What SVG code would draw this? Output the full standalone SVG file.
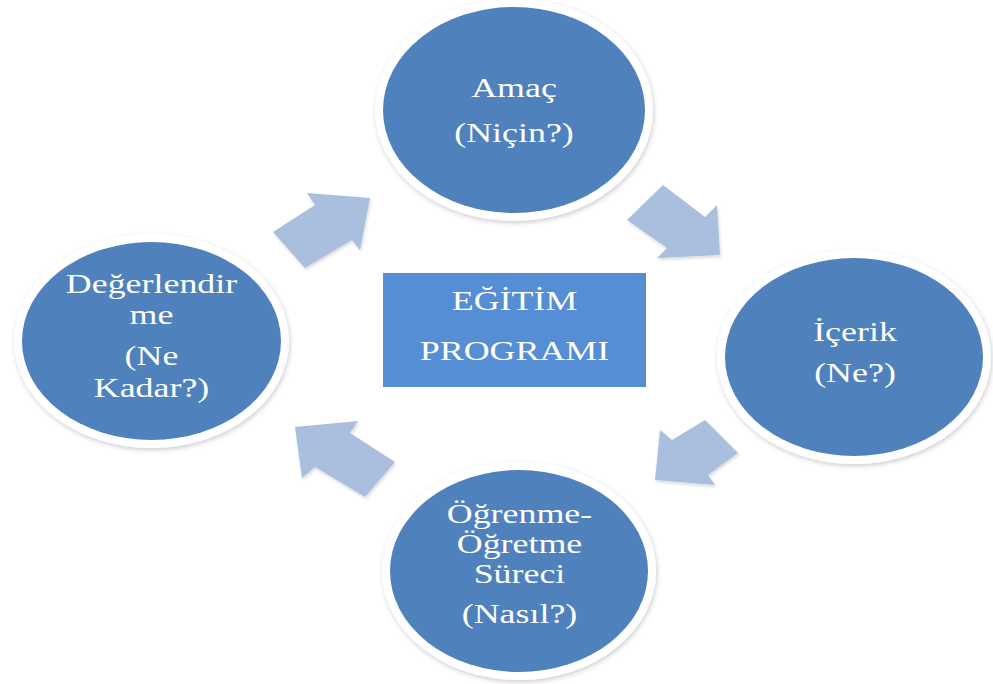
<svg xmlns="http://www.w3.org/2000/svg" width="993" height="684" viewBox="0 0 993 684">
<defs>
<filter id="sh" x="-10%" y="-10%" width="120%" height="120%">
<feDropShadow dx="1" dy="2" stdDeviation="2.5" flood-color="#000" flood-opacity="0.2"/>
</filter>
<filter id="ash" x="-10%" y="-10%" width="125%" height="125%">
<feDropShadow dx="1" dy="2" stdDeviation="1.5" flood-color="#000" flood-opacity="0.15"/>
</filter>
<style>
.ring{fill:#fff;filter:url(#sh)}
.disc{fill:#4F81BD}
.lbl{font-family:"Liberation Serif","Times New Roman",serif;font-size:27px;fill:#fff;text-anchor:middle}
.arrow{fill:#AABEDD;filter:url(#ash)}
</style>
</defs>
<rect width="993" height="684" fill="#fff"/>
<g id="connectors">
<polygon class="arrow" points="273,232 315,205 307,193 370,198 360,250 352,240 305,268"/>
<polygon class="arrow" points="663,185 705,217 717,205 720,255 657,258 667,248 627,220"/>
<polygon class="arrow" points="705,420 738,453 708,475 715,485 655,480 660,430 672,440"/>
<polygon class="arrow" points="295,427 358,421 350,433 395,462 365,497 315,467 302,478"/>
</g>
<g id="center">
<rect x="383" y="273" width="263" height="114" fill="#558ED5"/>
<text class="lbl" transform="translate(514.5,310) scale(1.33,1)">EĞİTİM</text>
<text class="lbl" transform="translate(514.5,360) scale(1.33,1)">PROGRAMI</text>
</g>
<g id="amac">
<ellipse class="ring" cx="514" cy="110" rx="139" ry="111"/>
<ellipse class="disc" cx="514" cy="110" rx="131" ry="103"/>
<text class="lbl" transform="translate(514,97) scale(1.33,1)">Amaç</text>
<text class="lbl" transform="translate(514,142) scale(1.33,1)">(Niçin?)</text>
</g>
<g id="icerik">
<ellipse class="ring" cx="854" cy="357" rx="137" ry="107"/>
<ellipse class="disc" cx="854" cy="357" rx="129" ry="99"/>
<text class="lbl" transform="translate(855,341) scale(1.33,1)">İçerik</text>
<text class="lbl" transform="translate(855,382) scale(1.33,1)">(Ne?)</text>
</g>
<g id="surec">
<ellipse class="ring" cx="519" cy="571" rx="137" ry="109"/>
<ellipse class="disc" cx="519" cy="571" rx="129" ry="101"/>
<text class="lbl" transform="translate(519.5,523) scale(1.33,1)">Öğrenme-</text>
<text class="lbl" transform="translate(519.5,553) scale(1.33,1)">Öğretme</text>
<text class="lbl" transform="translate(519.5,583) scale(1.33,1)">Süreci</text>
<text class="lbl" transform="translate(519.5,623) scale(1.33,1)">(Nasıl?)</text>
</g>
<g id="degerlendirme">
<ellipse class="ring" cx="151.5" cy="341" rx="137.5" ry="107"/>
<ellipse class="disc" cx="151.5" cy="341" rx="129.5" ry="99"/>
<text class="lbl" transform="translate(151.5,293) scale(1.33,1)">Değerlendir</text>
<text class="lbl" transform="translate(151.5,324) scale(1.33,1)">me</text>
<text class="lbl" transform="translate(151.5,365) scale(1.33,1)">(Ne</text>
<text class="lbl" transform="translate(151.5,397) scale(1.33,1)">Kadar?)</text>
</g>
</svg>
